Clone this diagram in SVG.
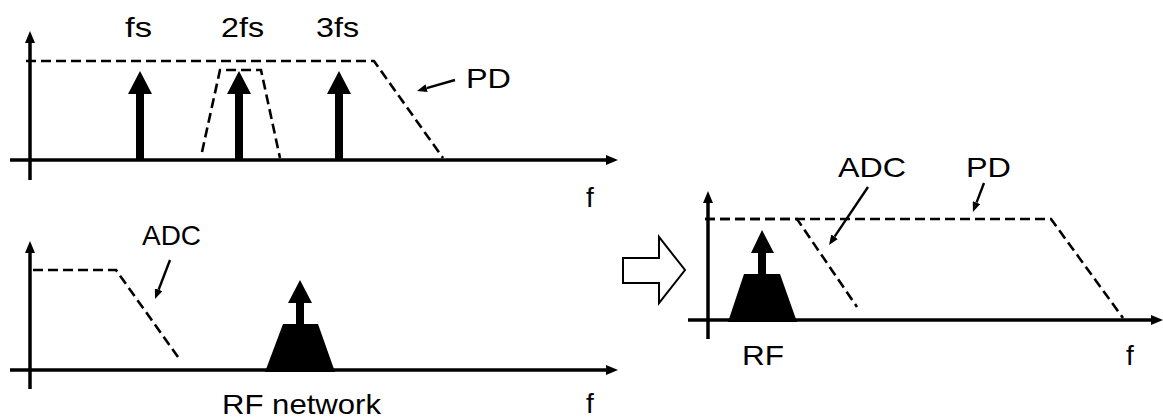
<svg xmlns="http://www.w3.org/2000/svg" width="1163" height="419" viewBox="0 0 1163 419">
<style>
  .axis { stroke: #000; stroke-width: 3.5; fill: none; }
  .dash { stroke: #000; stroke-width: 2.6; fill: none; stroke-dasharray: 10 5; }
  .ptr { stroke: #000; stroke-width: 2.4; fill: none; }
  .solid { fill: #000; stroke: none; }
  .lbl { font-family: "Liberation Sans", Arial, sans-serif; font-size: 28px; fill: #000; }
</style>
<defs>
  <marker id="axhead" viewBox="0 0 12 10" refX="0" refY="5" markerWidth="12" markerHeight="10" markerUnits="userSpaceOnUse" orient="auto">
    <path d="M0,0 L12,5 L0,10 z" fill="#000"/>
  </marker>
  <marker id="ptrhead" viewBox="0 0 10 8" refX="0" refY="4" markerWidth="10" markerHeight="8" markerUnits="userSpaceOnUse" orient="auto">
    <path d="M0,0 L10,4 L0,8 z" fill="#000"/>
  </marker>
</defs>

<!-- Top panel -->
<g id="top-panel">
  <line class="axis" x1="30" y1="180" x2="30" y2="43" marker-end="url(#axhead)"/>
  <line class="axis" x1="10" y1="160" x2="606" y2="160" marker-end="url(#axhead)"/>
  <polyline class="dash" points="26,61 374,61 443,158"/>
  <polyline class="dash" points="202,152 220,70 261,70 280,158"/>
  <path class="solid" d="M136,160 L136,94 L128,94 L140,71 L152,94 L144,94 L144,160 z"/>
  <path class="solid" d="M235,160 L235,94 L227,94 L239,71 L251,94 L243,94 L243,160 z"/>
  <path class="solid" d="M335,160 L335,94 L327,94 L339,71 L351,94 L343,94 L343,160 z"/>
  <text class="lbl" x="125" y="37" textLength="27" lengthAdjust="spacingAndGlyphs">fs</text>
  <text class="lbl" x="221" y="37" textLength="43" lengthAdjust="spacingAndGlyphs">2fs</text>
  <text class="lbl" x="316" y="37" textLength="43" lengthAdjust="spacingAndGlyphs">3fs</text>
  <text class="lbl" x="466" y="88" textLength="45" lengthAdjust="spacingAndGlyphs">PD</text>
  <text class="lbl" x="586" y="207">f</text>
</g>

<!-- Bottom-left panel -->
<g id="bottom-panel">
  <line class="axis" x1="30" y1="389" x2="30" y2="253" marker-end="url(#axhead)"/>
  <line class="axis" x1="10" y1="370" x2="606" y2="370" marker-end="url(#axhead)"/>
  <polyline class="dash" points="33,270 116,270 178,357"/>
  <path class="solid" d="M265,372 L283,324 L318,324 L335,372 z"/>
  <path class="solid" d="M296,325 L296,303 L288,303 L300,280 L312,303 L304,303 L304,325 z"/>
  <text class="lbl" x="142" y="245" textLength="59" lengthAdjust="spacingAndGlyphs">ADC</text>
  <text class="lbl" x="222" y="414" textLength="159" lengthAdjust="spacingAndGlyphs">RF network</text>
  <text class="lbl" x="586" y="413">f</text>
</g>

<!-- Transition arrow -->
<g id="transition-arrow">
  <polygon points="623,258 659,258 659,237 685,270 659,303 659,283 623,283" fill="#fff" stroke="#000" stroke-width="2"/>
</g>

<!-- Right panel -->
<g id="right-panel">
  <line class="axis" x1="708" y1="339" x2="708" y2="203" marker-end="url(#axhead)"/>
  <line class="axis" x1="688" y1="320" x2="1151" y2="320" marker-end="url(#axhead)"/>
  <polyline class="dash" points="705,219 1051,219 1123,318"/>
  <polyline class="dash" points="705,219 797,219 857,307"/>
  <path class="solid" d="M728,322 L744,274 L780,274 L797,322 z"/>
  <path class="solid" d="M758,275 L758,253 L751,253 L762,230 L774,253 L766,253 L766,275 z"/>
  <text class="lbl" x="838" y="177" textLength="68" lengthAdjust="spacingAndGlyphs">ADC</text>
  <text class="lbl" x="966" y="177" textLength="45" lengthAdjust="spacingAndGlyphs">PD</text>
  <text class="lbl" x="742" y="365" textLength="42" lengthAdjust="spacingAndGlyphs">RF</text>
  <text class="lbl" x="1126" y="365">f</text>
</g>

<!-- Pointer connectors -->
<g id="connectors">
  <line class="ptr" x1="455" y1="80" x2="426.6" y2="88.2" marker-end="url(#ptrhead)"/>
  <line class="ptr" x1="170" y1="260" x2="158.6" y2="289.7" marker-end="url(#ptrhead)"/>
  <line class="ptr" x1="868" y1="187" x2="834.6" y2="236.7" marker-end="url(#ptrhead)"/>
  <line class="ptr" x1="984" y1="183" x2="976.5" y2="202.6" marker-end="url(#ptrhead)"/>
</g>
</svg>
